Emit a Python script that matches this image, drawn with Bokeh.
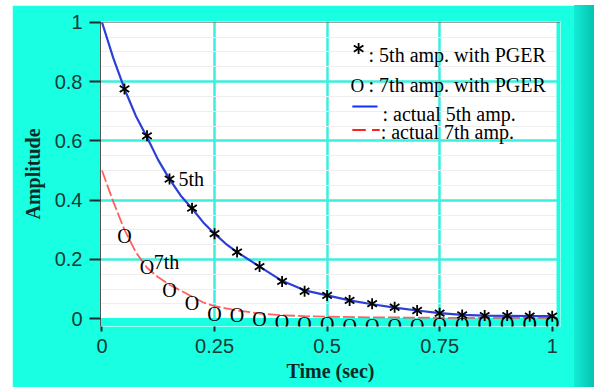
from bokeh.plotting import figure
from bokeh.models import Range1d, Label, BoxAnnotation, Span, FixedTicker, Div
from bokeh.layouts import row
from bokeh.core.properties import value
from bokeh.embed import file_html
from bokeh.resources import INLINE
import numpy as np

# --- data -------------------------------------------------------------
# sample instants of the estimator (sec)
t_est = [0.05, 0.10, 0.15, 0.20, 0.25, 0.30, 0.35, 0.40, 0.45, 0.50,
         0.55, 0.60, 0.65, 0.70, 0.75, 0.80, 0.85, 0.90, 0.95, 1.00]
# 5th harmonic amplitude estimated with PGER
amp5_pger = [0.775, 0.617, 0.471, 0.373, 0.287, 0.225, 0.176, 0.126, 0.093, 0.079,
             0.062, 0.051, 0.039, 0.028, 0.019, 0.013, 0.011, 0.011, 0.009, 0.009]
# 7th harmonic amplitude estimated with PGER
amp7_pger = [0.303, 0.197, 0.120, 0.078, 0.040, 0.035, 0.024, 0.013, 0.005, 0.005,
             -0.002, -0.002, -0.002, -0.002, 0.003, 0.003, 0.006, 0.006, 0.006, 0.008]

# actual 5th harmonic amplitude
t_act5 = [0.0, 0.025, 0.05, 0.075, 0.10, 0.125, 0.15, 0.175, 0.20, 0.225, 0.25,
          0.275, 0.30, 0.35, 0.40, 0.45, 0.50, 0.55, 0.60, 0.65, 0.70, 0.75,
          0.80, 0.85, 0.90, 0.95, 1.00]
amp5_act = [1.0, 0.88, 0.775, 0.685, 0.612, 0.535, 0.471, 0.415, 0.372, 0.325, 0.287,
            0.253, 0.225, 0.176, 0.128, 0.096, 0.079, 0.062, 0.049, 0.038, 0.028, 0.019,
            0.013, 0.011, 0.010, 0.009, 0.009]

# actual 7th harmonic amplitude
t_act7 = [0.0, 0.025, 0.05, 0.075, 0.10, 0.125, 0.15, 0.175, 0.20, 0.225, 0.25,
          0.30, 0.35, 0.40, 0.45, 0.50, 0.60, 0.70, 0.80, 0.90, 1.00]
amp7_act = [0.5, 0.395, 0.30, 0.225, 0.172, 0.14, 0.115, 0.095, 0.075, 0.055, 0.043,
            0.028, 0.018, 0.012, 0.009, 0.007, 0.005, 0.004, 0.003, 0.003, 0.003]

x_ticks = [0, 0.25, 0.5, 0.75, 1]
x_tick_labels = ["0", "0.25", "0.5", "0.75", "1"]
y_ticks = [0, 0.2, 0.4, 0.6, 0.8, 1]
y_tick_labels = ["0", "0.2", "0.4", "0.6", "0.8", "1"]

# --- styling ----------------------------------------------------------
CYAN = "#19ffe2"
GRID = "#3cefdc"
SERIF = "Liberation Serif"
SANS = "Liberation Sans"
TICK_TXT = "#113b38"

p = figure(width=562, height=382, output_backend="svg", toolbar_location=None,
           x_range=Range1d(-0.0033, 1.0184), y_range=Range1d(-0.0259, 1.0024),
           min_border_left=88, min_border_right=14, min_border_top=16,
           min_border_bottom=61, background_fill_color="white",
           border_fill_color=CYAN, outline_line_color=None, margin=(5, 0, 0, 12))

# cyan area below zero and right of the last sample
p.add_layout(BoxAnnotation(top=0.003, fill_color=CYAN, fill_alpha=1.0,
                           line_color=None, level="underlay"))
p.add_layout(BoxAnnotation(left=1.0096, fill_color=CYAN, fill_alpha=1.0,
                           line_color=None, level="underlay"))

# grid
p.xgrid.ticker = FixedTicker(ticks=[0.25, 0.5, 0.75])
p.ygrid.ticker = FixedTicker(ticks=[0.2, 0.4, 0.6, 0.8],
                             minor_ticks=[0.05, 0.1, 0.15, 0.25, 0.3, 0.35, 0.45, 0.5,
                                          0.55, 0.65, 0.7, 0.75, 0.85, 0.9, 0.95])
for g in (p.xgrid, p.ygrid):
    g.grid_line_color = GRID
    g.grid_line_width = 2.5
p.ygrid.minor_grid_line_color = "#eeeeee"
p.ygrid.minor_grid_line_width = 1

p.add_layout(Span(location=1.0, dimension="width", line_color="#777777", line_width=1))

# axes
p.xaxis.ticker = FixedTicker(ticks=x_ticks)
p.xaxis.major_label_overrides = dict(zip(x_ticks, x_tick_labels))
p.yaxis.ticker = FixedTicker(ticks=y_ticks)
p.yaxis.major_label_overrides = dict(zip(y_ticks, y_tick_labels))

for ax in (p.xaxis[0], p.yaxis[0]):
    ax.major_label_text_font = SANS
    ax.major_label_text_font_size = "20px"
    ax.major_label_text_color = TICK_TXT
    ax.major_tick_line_color = "#1a2e2e"
    ax.major_tick_line_width = 2
    ax.major_tick_in = 0
    ax.minor_tick_line_color = None
    ax.axis_label_text_font = SERIF
    ax.axis_label_text_font_style = "bold"
    ax.axis_label_text_font_size = "20px"
    ax.axis_label_text_color = "#0a2a28"

p.xaxis.axis_line_color = None
p.xaxis.major_tick_out = 5
p.xaxis.major_label_standoff = 7
p.xaxis.axis_label = "Time (sec)"
p.xaxis.axis_label_standoff = 4

p.yaxis.axis_line_color = "#555555"
p.yaxis.axis_line_width = 1
p.yaxis.major_tick_out = 11
p.yaxis.major_label_standoff = 7
p.yaxis.axis_label = "Amplitude"
p.yaxis.axis_label_standoff = 8

# actual amplitudes
p.line(t_act7, amp7_act, line_color="#ff4545", line_alpha=0.85, line_width=1.8,
       line_dash="12 3")
p.line(t_act5, amp5_act, line_color="#2b3fd6", line_width=2.2)

# PGER estimates
p.text(x=t_est, y=amp7_pger, text=["O"] * len(t_est), text_font=value(SERIF),
       text_font_size="20px", text_color="black", text_align="center",
       text_baseline="alphabetic", y_offset=7)
for ang in (0.0, np.pi):
    p.scatter(x=t_est, y=amp5_pger, marker="y", size=11, angle=ang,
              line_color="black", line_width=1.8)

# curve tags
def tag(x, y, txt, size="20px", color="black"):
    p.add_layout(Label(x=x, y=y, text=txt, text_font=SERIF, text_font_size=size,
                       text_color=color, text_baseline="alphabetic", text_align="left"))

tag(0.170, 0.472, "5th")
tag(0.115, 0.193, "7th")

# legend
KEY_X = 0.570
for ang in (0.0, np.pi):
    p.scatter(x=[KEY_X], y=[0.911], marker="y", size=11, angle=ang,
              line_color="black", line_width=1.8)
tag(0.592, 0.888, ": 5th amp. with PGER")
tag(0.552, 0.787, "O", size="19px")
tag(0.592, 0.787, ": 7th amp. with PGER")
p.line([0.556, 0.612], [0.716, 0.716], line_color="#1030ff", line_width=2)
tag(0.623, 0.691, ": actual 5th amp.")
p.line([0.556, 0.586], [0.637, 0.637], line_color="#ff2020", line_width=2)
p.line([0.600, 0.617], [0.637, 0.637], line_color="#ff2020", line_width=2)
tag(0.619, 0.629, ": actual 7th amp.")

strip = Div(width=20, height=382, margin=(5, 0, 0, 0),
            styles={"background": "linear-gradient(to right, #14ead6, #04c4b0)"})

layout = row(p, strip)
open("out.html", "w").write(file_html(layout, INLINE))
